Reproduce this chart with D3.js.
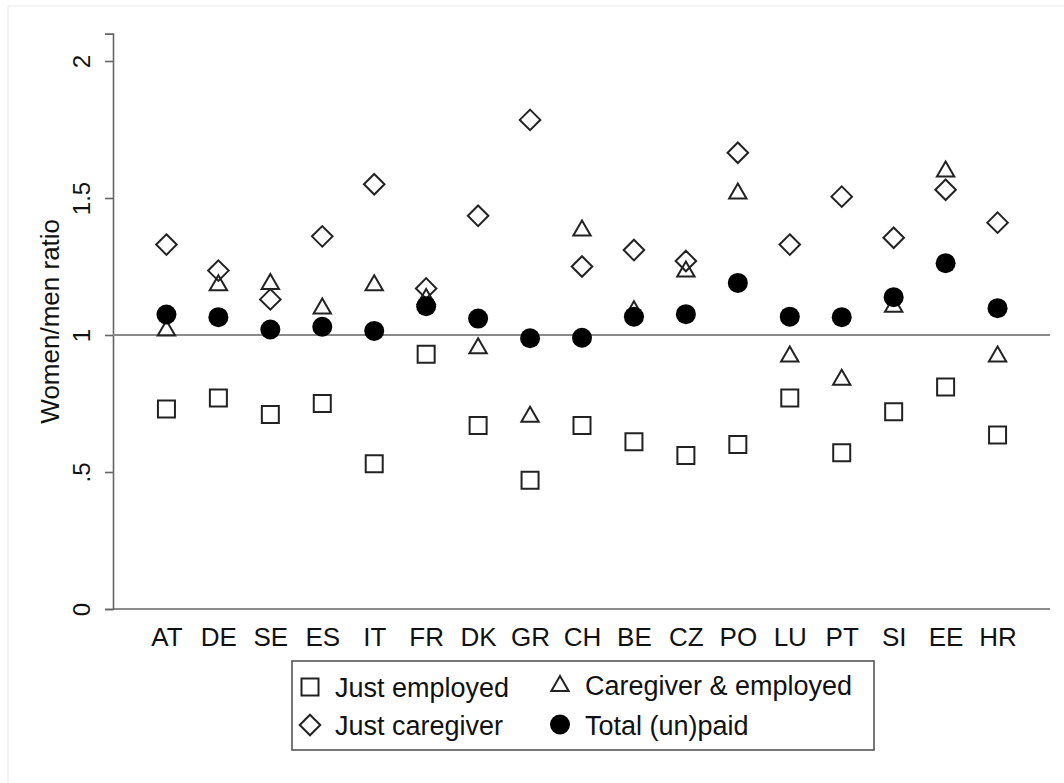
<!DOCTYPE html>
<html>
<head>
<meta charset="utf-8">
<script src="https://cdn.jsdelivr.net/npm/d3@7"></script>
<style>
  html, body { margin: 0; padding: 0; background: #fff; }
  svg { display: block; font-family: "Liberation Sans", Arial, sans-serif; }
</style>
</head>
<body>
<svg id="chart" width="1064" height="783"></svg>
<script>
// ---- data ----
const countries = ["AT","DE","SE","ES","IT","FR","DK","GR","CH","BE","CZ","PO","LU","PT","SI","EE","HR"];
const justEmployed      = [0.73, 0.77, 0.71, 0.75, 0.53, 0.93, 0.67, 0.47, 0.67, 0.61, 0.56, 0.60, 0.77, 0.57, 0.72, 0.81, 0.635];
const caregiverEmployed = [1.02, 1.185, 1.19, 1.10, 1.185, 1.135, 0.955, 0.705, 1.385, 1.09, 1.235, 1.52, 0.925, 0.84, 1.107, 1.60, 0.925];
const justCaregiver     = [1.33, 1.235, 1.13, 1.36, 1.55, 1.17, 1.435, 1.785, 1.25, 1.31, 1.27, 1.665, 1.33, 1.505, 1.355, 1.53, 1.41];
const totalUnpaid       = [1.075, 1.065, 1.02, 1.03, 1.015, 1.105, 1.06, 0.988, 0.99, 1.067, 1.076, 1.19, 1.067, 1.065, 1.138, 1.262, 1.098];
const yTickValues = [0, 0.5, 1, 1.5, 2];
const yTickLabels = ["0", ".5", "1", "1.5", "2"];
const yTitle = "Women/men ratio";
const referenceValue = 1;
const seriesNames = ["Just employed", "Caregiver & employed", "Just caregiver", "Total (un)paid"];

// ---- setup ----
const svg = d3.select("#chart");
const W = 1064, H = 783;
const ink = "#222";

// faint outer frame (top & left)
svg.append("line").attr("x1", 8).attr("x2", W).attr("y1", 6).attr("y2", 6)
  .attr("stroke", "#f0f0f0").attr("stroke-width", 1.5);
svg.append("line").attr("x1", 8).attr("x2", 8).attr("y1", 6).attr("y2", H)
  .attr("stroke", "#f0f0f0").attr("stroke-width", 1.5);

const x = d3.scalePoint().domain(countries).range([114.5, 1049.5]).padding(1);
const y = d3.scaleLinear().domain([0, 2.1]).range([609, 609 - 2.1 * 274]);

// ---- symbols ----
const sym = {
  square:   d3.symbol().type(d3.symbolSquare).size(17 * 17),
  diamond:  d3.symbol().type(d3.symbolDiamond2).size(2 * 11.6 * 11.6),
  triangle: d3.symbol().type(d3.symbolTriangle2).size(215),
  circle:   d3.symbol().type(d3.symbolCircle).size(Math.PI * 10 * 10)
};

// ---- axes ----
const yAxis = d3.axisLeft(y).tickValues(yTickValues)
  .tickFormat((d, i) => yTickLabels[i]).tickSize(8).tickPadding(0);
const gy = svg.append("g").attr("transform", "translate(113,0)").call(yAxis);
gy.select(".domain").attr("stroke", "#666").attr("stroke-width", 1.6);
gy.selectAll(".tick line").attr("stroke", "#666").attr("stroke-width", 1.6);
gy.selectAll(".tick text")
  .attr("x", null).attr("dy", null)
  .attr("transform", "translate(-23,0) rotate(-90)")
  .attr("text-anchor", "middle")
  .attr("fill", "#111")
  .style("font-size", "24px");

const xAxis = d3.axisBottom(x).tickSize(0).tickPadding(0);
const gx = svg.append("g").attr("transform", "translate(0,609)").call(xAxis);
gx.select(".domain").attr("stroke", "#666").attr("stroke-width", 1.6)
  .attr("d", "M113,0H1050");
gx.selectAll(".tick text").attr("y", 37).attr("dy", null)
  .attr("fill", "#111").style("font-size", "26px");

// y title
svg.append("text")
  .attr("transform", `translate(59,${(y(0) + y(2.1)) / 2}) rotate(-90)`)
  .attr("text-anchor", "middle")
  .attr("fill", "#111")
  .style("font-size", "26px")
  .text(yTitle);

// reference line
svg.append("line")
  .attr("x1", 113).attr("x2", 1050)
  .attr("y1", y(referenceValue)).attr("y2", y(referenceValue))
  .attr("stroke", "#8a8a8a").attr("stroke-width", 2);

// ---- markers ----
function drawSeries(values, gen, filled, dyAdj) {
  svg.append("g").selectAll("path").data(values).join("path")
    .attr("transform", (d, i) => `translate(${x(countries[i])},${y(d) + (dyAdj || 0)})`)
    .attr("d", gen)
    .attr("fill", filled ? "#000" : "none")
    .attr("stroke", filled ? "none" : ink)
    .attr("stroke-width", 2);
}
drawSeries(justEmployed, sym.square, false);
drawSeries(caregiverEmployed, sym.triangle, false, 1);
drawSeries(justCaregiver, sym.diamond, false);
drawSeries(totalUnpaid, sym.circle, true);

// ---- legend ----
const lg = svg.append("g");
lg.append("rect").attr("x", 292).attr("y", 661).attr("width", 582).attr("height", 89)
  .attr("fill", "#fff").attr("stroke", "#555").attr("stroke-width", 1.6);
const legendItems = [
  { name: seriesNames[0], gen: sym.square,   filled: false, sx: 310, sy: 687, dyAdj: 0 },
  { name: seriesNames[1], gen: sym.triangle, filled: false, sx: 560, sy: 685, dyAdj: 1 },
  { name: seriesNames[2], gen: sym.diamond,  filled: false, sx: 310, sy: 725, dyAdj: 0 },
  { name: seriesNames[3], gen: sym.circle,   filled: true,  sx: 560, sy: 724.5, dyAdj: 0 }
];
legendItems.forEach(it => {
  lg.append("path")
    .attr("transform", `translate(${it.sx},${it.sy + it.dyAdj})`)
    .attr("d", it.gen)
    .attr("fill", it.filled ? "#000" : "none")
    .attr("stroke", it.filled ? "none" : ink)
    .attr("stroke-width", 2);
  lg.append("text")
    .attr("x", it.sx + 25).attr("y", it.sy + 10)
    .attr("fill", "#111")
    .style("font-size", "27px")
    .text(it.name);
});
</script>
</body>
</html>
